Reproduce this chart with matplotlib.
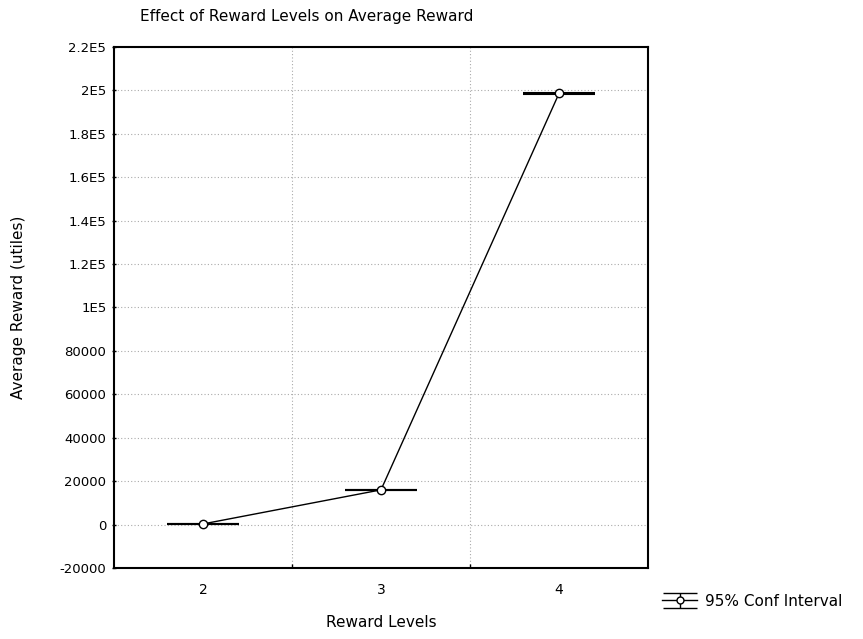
import numpy as np
import matplotlib
matplotlib.use("Agg")
import matplotlib.pyplot as plt

# Reward level categories and the mean average reward at each
levels = ["2", "3", "4"]
mean_reward = [300, 16000, 198600]
ci_low = [200, 15900, 198200]
ci_high = [400, 16100, 199000]

yticks = [-20000, 0, 20000, 40000, 60000, 80000, 100000, 120000,
          140000, 160000, 180000, 200000, 220000]
ytick_labels = ["-20000", "0", "20000", "40000", "60000", "80000", "1E5",
                "1.2E5", "1.4E5", "1.6E5", "1.8E5", "2E5", "2.2E5"]

plt.rcParams["font.family"] = ["DejaVu Sans"]
fig = plt.figure(figsize=(8.63, 6.39), dpi=100)
ax = fig.add_axes([114 / 863, 1 - 568 / 639, (648 - 114) / 863, (568 - 47) / 639])

x = np.arange(len(levels))
half = 0.2

# confidence interval caps and whiskers
ax.hlines(ci_low, x - half, x + half, colors="black", linewidth=1.5, zorder=3)
ax.hlines(ci_high, x - half, x + half, colors="black", linewidth=1.5, zorder=3)
ax.vlines(x, ci_low, ci_high, colors="black", linewidth=1.5, zorder=3)

# mean line with open circle markers
ax.plot(x, mean_reward, color="black", linewidth=1.0, marker="o",
        markersize=6, markerfacecolor="white", markeredgecolor="black",
        markeredgewidth=1.0, zorder=4)

ax.set_xlim(-0.5, len(levels) - 0.5)
ax.set_ylim(-20000, 220000)
ax.set_yticks(yticks)
ax.set_yticklabels(ytick_labels, fontsize=9.5)

ax.set_xticks(x)
ax.set_xticklabels(levels, fontsize=10)
ax.set_xticks(x[:-1] + 0.5, minor=True)
ax.tick_params(axis="x", which="major", length=0, pad=11)
ax.tick_params(axis="x", which="minor", length=3, direction="in", width=1)
ax.tick_params(axis="y", which="major", length=3, direction="inout", width=1, pad=4)

ax.grid(True, axis="y", which="major", linestyle=(0, (1, 2)), color="#aaaaaa", linewidth=0.8)
ax.grid(True, axis="x", which="minor", linestyle=(0, (1, 2)), color="#aaaaaa", linewidth=0.8)
ax.set_axisbelow(True)

for s in ax.spines.values():
    s.set_linewidth(1.5)
    s.set_color("black")

ax.set_xlabel("Reward Levels", fontsize=11, labelpad=13)
ax.set_ylabel("Average Reward (utiles)", fontsize=11, labelpad=24)

fig.text(140 / 863, 1 - 17 / 639, "Effect of Reward Levels on Average Reward",
         fontsize=11, ha="left", va="center")

# legend proxy for the interval symbol
proxy = ax.errorbar([np.nan], [np.nan], yerr=[[1], [1]], fmt="-o", color="black",
                    markersize=5, markerfacecolor="white", capsize=12,
                    linewidth=1.0, elinewidth=1.0)
fig.legend([proxy], ["95% Conf Interval"], loc="center left",
           bbox_to_anchor=(656 / 863, 1 - 601 / 639), frameon=False,
           fontsize=11, handlelength=2.3, handletextpad=0.5, borderaxespad=0)

fig.savefig("out.png", dpi=100)
